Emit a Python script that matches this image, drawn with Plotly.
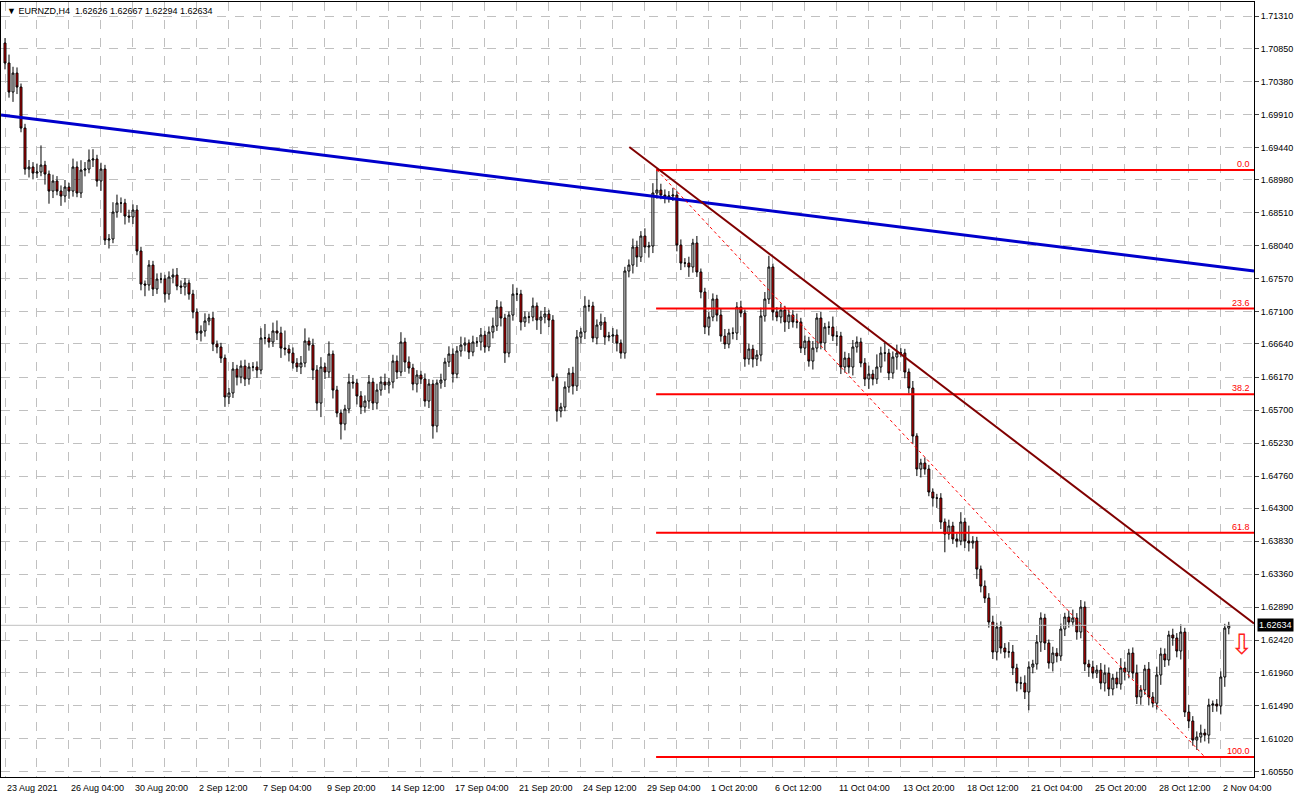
import plotly.graph_objects as go

symbol_title = "EURNZD,H4  1.62626 1.62667 1.62294 1.62634"
first_open = 1.70926
closes = [
1.70641,1.70228,1.70498,1.70299,1.69715,1.69131,1.69160,1.69074,1.69089,1.69188,
1.69060,1.68818,1.68961,1.68818,1.68747,1.68875,1.68818,1.69160,1.68790,1.69117,
1.69131,1.69260,1.69274,1.68961,1.69131,1.68120,1.68135,1.68519,1.68647,1.68647,
1.68462,1.68448,1.68548,1.67964,1.67494,1.67480,1.67764,1.67423,1.67565,1.67565,
1.67351,1.67594,1.67622,1.67465,1.67451,1.67508,1.67351,1.67095,1.66796,1.66825,
1.66967,1.67010,1.66639,1.66597,1.66440,1.65885,1.65942,1.66283,1.66170,1.66326,
1.66141,1.66312,1.66312,1.66269,1.66725,1.66725,1.66668,1.66825,1.66796,1.66582,
1.66568,1.66511,1.66369,1.66312,1.66369,1.66682,1.66625,1.66269,1.65799,1.66312,
1.66241,1.66497,1.65984,1.65657,1.65500,1.65714,1.66098,1.66084,1.65899,1.65742,
1.65828,1.66098,1.65799,1.65984,1.66098,1.66056,1.66098,1.66397,1.66241,1.66668,
1.66383,1.66298,1.66070,1.66198,1.66141,1.65828,1.66070,1.65472,1.66084,1.66127,
1.66383,1.66497,1.66212,1.66540,1.66625,1.66654,1.66525,1.66668,1.66668,1.66768,
1.66597,1.66810,1.66896,1.67166,1.67010,1.66511,1.67052,1.67351,1.67351,1.66953,
1.67024,1.67024,1.67181,1.66981,1.67024,1.67067,1.66981,1.66170,1.65685,1.65742,
1.66027,1.66226,1.66041,1.66739,1.66810,1.67181,1.67181,1.66725,1.66910,1.66953,
1.66739,1.66753,1.66768,1.66654,1.66511,1.67679,1.67764,1.68021,1.67878,1.68177,
1.68021,1.68035,1.68790,1.68832,1.68761,1.68733,1.68747,1.68761,1.68049,1.67793,
1.67793,1.67736,1.68078,1.67665,1.67380,1.66881,1.67024,1.67280,1.67052,1.66753,
1.66639,1.66796,1.66796,1.67166,1.67081,1.66426,1.66568,1.66426,1.66483,1.67038,
1.67280,1.67736,1.67095,1.67024,1.67124,1.66953,1.67052,1.66953,1.66953,1.66582,
1.66682,1.66397,1.66582,1.67010,1.66654,1.66881,1.66881,1.66753,1.66753,1.66312,
1.66440,1.66312,1.66597,1.66668,1.66369,1.66141,1.66212,1.66141,1.66312,1.66511,
1.66511,1.66226,1.66454,1.66511,1.66511,1.66241,1.66013,1.65329,1.64859,1.64945,
1.64859,1.64532,1.64446,1.64446,1.64105,1.63934,1.64048,1.63863,1.63834,1.64105,
1.63834,1.63806,1.63834,1.63435,1.63193,1.63022,1.62681,1.62254,1.62610,1.62311,
1.62254,1.62254,1.62026,1.61812,1.61812,1.61684,1.62040,1.62083,1.62396,1.62738,
1.62382,1.62097,1.62239,1.62197,1.62581,1.62752,1.62681,1.62738,1.62539,1.62894,
1.62083,1.62040,1.61954,1.61997,1.61812,1.61954,1.61727,1.61883,1.61798,1.62026,
1.61969,1.62239,1.61954,1.61613,1.61713,1.62011,1.61613,1.61525,1.61926,1.62225,
1.62140,1.62496,1.62453,1.62268,1.62538,1.61399,1.61271,1.61000,1.61043,1.61100,
1.61071,1.61499,1.61513,1.61485,1.61898,1.62595,1.62634]
# wick lengths in pips above body top / below body bottom
upper_wick = [
7,12,9,8,5,6,10,7,12,28, 6,5,9,7,8,10,6,12,8,14, 10,15,14,6,9,6,7,14,12,8,
6,9,8,7,6,5,7,6,8,9, 6,8,9,10,8,7,5,6,5,8, 11,6,9,5,6,5,7,10,6,8, 9,6,7,8,14,20,6,12,15,9,
25,6,8,7,10,18,5,9,7,14, 6,18,5,6,5,6,12,10,6,7, 8,10,6,9,8,12,6,9,8,14,
6,8,6,7,6,8,7,6,5,9, 6,11,8,7,12,8,5,9,7,10, 6,8,12,10,8,6,5,14,9,6, 8,7,12,5,9,10,6,7,5,6,
8,7,9,10,6,14,9,6,8,12, 7,6,10,8,5,6,8,12,9,7, 11,6,14,28,9,8,7,10,6,8, 7,9,6,10,5,6,7,8,6,9,
10,6,8,7,9,5,8,6,7,12, 10,16,5,7,9,6,8,7,12,6, 8,6,10,7,9,6,8,15,7,6, 9,7,10,8,6,7,12,6,18,9,
15,6,8,12,7,6,5,10,4,6, 8,6,5,6,7,5,9,6,8,14, 6,22,7,6,5,8,7,9,6,8, 7,14,10,6,9,11,8,6,10,8,
6,5,9,7,8,6,9,12,7,10, 8,6,9,7,10,12,8,6,9,14, 9,6,8,12,7,6,10,7,12,9, 8,6,9,7,11,6,10,7,8,12,
6,9,5,7,8,6,5]
lower_wick = [
9,8,14,10,6,8,12,9,7,6, 15,18,10,6,14,9,11,8,6,7, 9,6,10,8,14,7,12,6,8,14, 12,8,10,6,9,16,8,10,7,6,
12,8,9,6,10,12,8,9,10,12, 8,6,10,9,7,14,10,7,12,9, 10,8,6,11,6,9,8,7,10,14, 9,12,8,7,10,6,8,14,11,20,
10,8,12,6,22,9,6,8,12,10, 8,11,10,9,8,7,12,9,10,6, 14,8,9,12,7,8,10,18,9,8, 10,7,12,6,8,9,10,6,7,12,
8,6,9,7,12,14,6,8,10,12, 7,9,6,14,20,9,10,6,15,9, 6,8,12,7,9,10,8,6,9,7, 11,6,10,12,8,8,9,12,14,7,
9,15,10,8,6,9,8,7,9,10, 6,14,8,7,9,10,12,6,9,8, 7,6,9,10,6,11,8,12,10,9, 8,7,12,6,9,14,10,8,9,7,
10,8,12,6,9,10,11,7,14,10, 8,9,12,8,6,10,14,9,7,8, 12,10,8,18,6,9,8,11,10,12, 8,6,12,14,10,26,8,7,9,6,
10,12,8,14,9,7,8,10,12,8, 9,8,10,12,9,10,26,9,8,14, 10,8,12,9,7,10,8,6,11,9, 10,14,8,7,9,12,10,9,6,8,
12,9,8,10,11,7,12,6,9,14, 10,8,11,9,12,7,10,8,14,8, 9,12,10,8,12,14,9,10,14,10, 8,16,11,13,31,9,10,8,12,9,
8,10,7,9,8,6,5]

x_tick_labels = ["23 Aug 2021","26 Aug 04:00","30 Aug 20:00","2 Sep 12:00","7 Sep 04:00",
    "9 Sep 20:00","14 Sep 12:00","17 Sep 04:00","21 Sep 20:00","24 Sep 12:00","29 Sep 04:00",
    "1 Oct 20:00","6 Oct 12:00","11 Oct 04:00","13 Oct 20:00","18 Oct 12:00","21 Oct 04:00",
    "25 Oct 20:00","28 Oct 12:00","2 Nov 04:00"]
price_ticks = [1.71310,1.70850,1.70380,1.69910,1.69440,1.68980,1.68510,1.68040,1.67570,1.67100,
    1.66640,1.66170,1.65700,1.65230,1.64760,1.64300,1.63830,1.63360,1.62890,1.62420,1.61960,
    1.61490,1.61020,1.60550]
fib_high, fib_high_idx = 1.69117, 163
fib_low, fib_low_idx = 1.60758, 300
fib_levels = [0.0, 23.6, 38.2, 61.8, 100.0]
blue_line = ([-1.0, 312.3], [1.69900, 1.67679])
maroon_line = ([156.1, 312.3], [1.69445, 1.62660])
last_price = 1.62634

n = len(closes)
idx = list(range(n))
opens = [first_open] + closes[:-1]
highs = [max(o, c) + u * 0.0001 for o, c, u in zip(opens, closes, upper_wick)]
lows = [min(o, c) - l * 0.0001 for o, c, l in zip(opens, closes, lower_wick)]

XMAX = 312.3
FONT = "Liberation Sans"
fig = go.Figure()
fig.add_trace(go.Scatter(x=blue_line[0], y=blue_line[1], mode="lines",
                         line=dict(color="#0000CC", width=3), hoverinfo="skip"))
fig.add_trace(go.Scatter(x=[fib_high_idx, fib_low_idx], y=[fib_high, fib_low], mode="lines",
                         line=dict(color="#FF0000", width=1, dash="dot"), hoverinfo="skip"))
for lv in fib_levels:
    p = fib_high - (fib_high - fib_low) * lv / 100
    fig.add_trace(go.Scatter(x=[fib_high_idx - 0.2, XMAX], y=[p, p], mode="lines",
                             line=dict(color="#FF0000", width=2), hoverinfo="skip"))
    fig.add_annotation(x=XMAX - 0.4, y=p, text=f"{lv:.1f}", showarrow=False,
                       xanchor="right", yanchor="bottom", yshift=-1,
                       font=dict(color="#FF0000", size=9, family=FONT))
fig.add_trace(go.Scatter(x=[-1, XMAX], y=[last_price, last_price], mode="lines",
                         line=dict(color="#C0C0C0", width=1), hoverinfo="skip"))
fig.add_trace(go.Candlestick(x=idx, open=opens, high=highs, low=lows, close=closes,
    increasing=dict(fillcolor="#FFFFFF", line=dict(color="#000000", width=1)),
    decreasing=dict(fillcolor="#E00000", line=dict(color="#000000", width=1)),
    whiskerwidth=0))
fig.add_trace(go.Scatter(x=maroon_line[0], y=maroon_line[1], mode="lines",
                         line=dict(color="#800000", width=2), hoverinfo="skip"))

for k, lab in enumerate(x_tick_labels):
    fig.add_annotation(x=16 * k, y=0, yref="paper", text=lab, showarrow=False,
                       xanchor="left", yanchor="top", yshift=-4, xshift=0,
                       font=dict(size=9, family=FONT, color="#000"))
fig.add_annotation(x=1.0, xref="paper", y=last_price, text="1.62634", showarrow=False,
                   xanchor="left", bgcolor="#000000", font=dict(color="#FFFFFF", size=9,
                   family=FONT), borderpad=1, xshift=3)
fig.add_annotation(x=309.2, y=1.6236, text="⇩", showarrow=False,
                   font=dict(color="#FF2020", size=28, family="DejaVu Sans"))
fig.add_annotation(x=0, xref="paper", y=1, yref="paper", text="▼ " + symbol_title,
                   showarrow=False, xanchor="left", yanchor="top", yshift=-2, xshift=4,
                   font=dict(size=9, family=FONT, color="#000"))

fig.update_layout(width=1300, height=798, margin=dict(l=1, r=46, t=2, b=21),
    paper_bgcolor="white", plot_bgcolor="white", showlegend=False,
    xaxis=dict(range=[-1, XMAX], rangeslider=dict(visible=False),
               tickvals=list(range(0, 312, 8)), showticklabels=False,
               showgrid=True, gridcolor="#C0C0C0", griddash="dash", zeroline=False,
               showline=True, linecolor="#000", mirror=True, ticks=""),
    yaxis=dict(range=[1.60474, 1.71510], side="right", tickvals=price_ticks,
               ticktext=[f"{v:.5f}" for v in price_ticks], ticks="outside", ticklen=4,
               tickfont=dict(size=9, family=FONT, color="#000"),
               showgrid=True, gridcolor="#C0C0C0", griddash="dash", zeroline=False,
               showline=True, linecolor="#000", mirror=True))
fig.write_html("out.html", config={"displayModeBar": False})
with open("out.html", encoding="utf-8") as fh:
    html = fh.read()
html = html.replace("<head>", "<head><style>html,body{margin:0;padding:0;overflow:hidden}</style>", 1)
with open("out.html", "w", encoding="utf-8") as fh:
    fh.write(html)
